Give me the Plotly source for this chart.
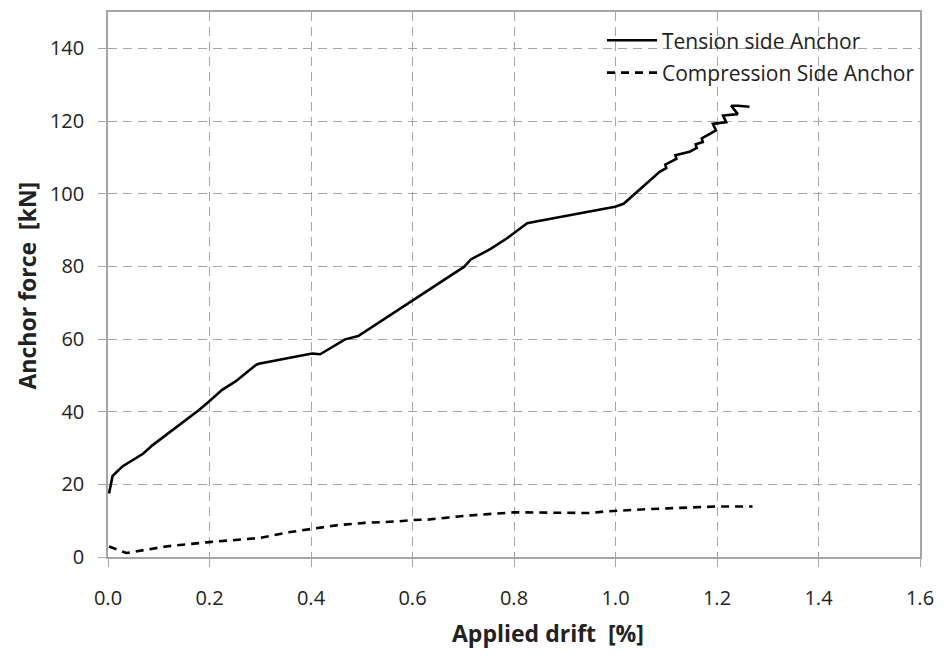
import plotly.graph_objects as go

# Tension side anchor
tension_x = [0.002, 0.009, 0.029, 0.049, 0.069, 0.088, 0.108, 0.134, 0.160, 0.180, 0.199,
             0.225, 0.252, 0.271, 0.291, 0.297, 0.402, 0.418, 0.441, 0.467, 0.493,
             0.702, 0.715, 0.754, 0.787, 0.813, 0.826, 0.846, 0.999, 1.016,
             1.035, 1.061, 1.087, 1.100, 1.098, 1.120, 1.118, 1.146, 1.160, 1.158,
             1.172, 1.170, 1.185,
             1.198, 1.192, 1.218, 1.212, 1.241, 1.228, 1.241, 1.264]
tension_y = [17.5, 22.3, 25.0, 26.6, 28.4, 30.8, 32.9, 35.5, 38.2, 40.5, 42.8,
             46.0, 48.4, 50.5, 52.8, 53.2, 56.0, 55.8, 57.8, 59.9, 60.8,
             79.9, 81.9, 84.8, 87.8, 90.5, 91.9, 92.4, 96.4, 97.2,
             99.6, 102.8, 106.0, 107.0, 108.0, 109.6, 110.6, 111.5, 112.6, 113.6,
             114.2, 115.2, 116.5,
             117.4, 119.2, 119.7, 121.5, 121.9, 124.2, 124.2, 123.9]

# Compression side anchor
comp_x = [0.002, 0.036, 0.049, 0.114, 0.199, 0.297, 0.356, 0.402, 0.454, 0.506, 0.571,
          0.601, 0.630, 0.709, 0.774, 0.800, 0.950, 0.976, 1.068, 1.198, 1.270]
comp_y = [2.9, 1.1, 1.4, 2.9, 4.1, 5.2, 6.8, 7.7, 8.8, 9.4, 9.8,
          10.2, 10.3, 11.4, 12.1, 12.3, 12.1, 12.5, 13.2, 13.9, 13.9]

x_ticks = [0.0, 0.2, 0.4, 0.6, 0.8, 1.0, 1.2, 1.4, 1.6]
x_tick_labels = ["0.0", "0.2", "0.4", "0.6", "0.8", "1.0", "1.2", "1.4", "1.6"]
y_ticks = [0, 20, 40, 60, 80, 100, 120, 140]

FONT = "Open Sans"
GRID = "#A6A6A6"
TXT = "#222222"

fig = go.Figure()
fig.add_trace(go.Scatter(x=tension_x, y=tension_y, mode="lines",
                         name="Tension side Anchor", legendgroup="a",
                         line=dict(color="black", width=2.6)))
fig.add_trace(go.Scatter(x=comp_x, y=comp_y, mode="lines",
                         name="Compression Side Anchor", legendgroup="b",
                         line=dict(color="black", width=2.6, dash="8px,6px")))

plot_w = 944 - 108 - 19
plot_h = 658 - 10 - 101

fig.update_layout(
    width=944, height=658,
    margin=dict(l=108, r=19, t=10, b=101),
    paper_bgcolor="white", plot_bgcolor="white",
    font=dict(family=FONT, size=20, color=TXT),
    showlegend=True,
    legend=dict(x=1.0, y=0.985, xanchor="right", yanchor="top",
                bgcolor="rgba(0,0,0,0)", font=dict(size=21, color=TXT),
                tracegroupgap=2, itemwidth=50),
    xaxis=dict(range=[0, 1.6], tickvals=x_ticks, ticktext=x_tick_labels,
               tickfont=dict(size=20),
               showgrid=True, gridcolor=GRID, griddash="9px,6px", gridwidth=1,
               showline=True, linecolor=GRID, linewidth=1.5, mirror=True,
               ticks="outside", ticklen=8, tickcolor=GRID, tickwidth=1,
               ticklabelstandoff=14, zeroline=False),
    yaxis=dict(range=[0, 150], tickvals=y_ticks,
               tickfont=dict(size=20),
               showgrid=True, gridcolor=GRID, griddash="9px,6px", gridwidth=1,
               showline=True, linecolor=GRID, linewidth=1.5, mirror=True,
               ticks="outside", ticklen=8, tickcolor=GRID, tickwidth=1,
               ticklabelstandoff=10, zeroline=False),
    annotations=[
        dict(text="<b>Applied drift  [%]</b>", xref="paper", yref="paper",
             x=(551 - 108) / plot_w, y=(557 - 633) / plot_h,
             xanchor="center", yanchor="middle",
             showarrow=False, font=dict(size=23, family=FONT, color=TXT)),
        dict(text="<b>Anchor force  [kN]</b>", xref="paper", yref="paper",
             x=(27 - 108) / plot_w, y=(557 - 284) / plot_h, textangle=-90,
             xanchor="center", yanchor="middle",
             showarrow=False, font=dict(size=23, family=FONT, color=TXT)),
    ],
)

fig.write_html("out.html")
